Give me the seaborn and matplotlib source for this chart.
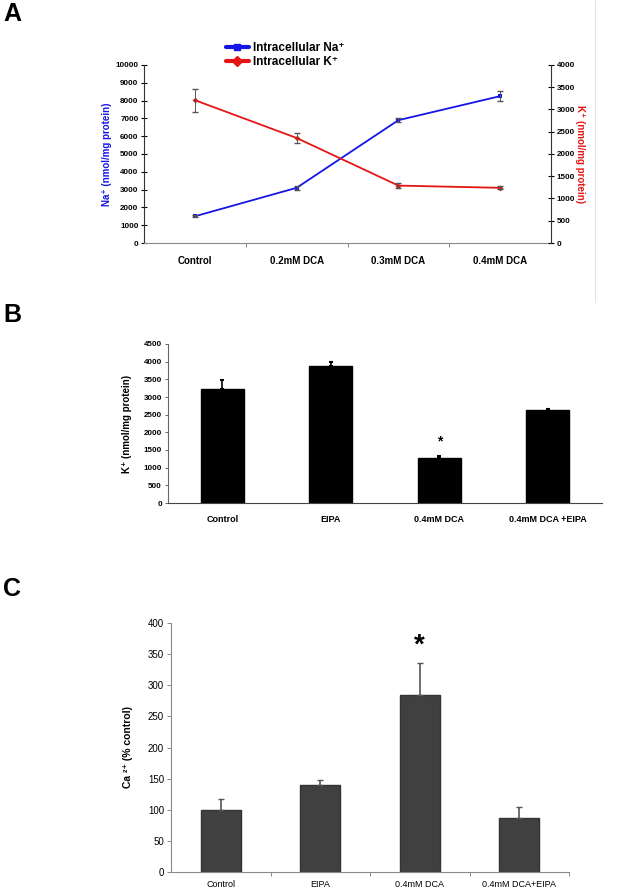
import pandas as pd
import matplotlib
matplotlib.use('Agg')
import matplotlib.pyplot as plt
from matplotlib.lines import Line2D
from matplotlib.ticker import FixedLocator
import seaborn as sns

# panel A: intracellular Na+ / K+ vs DCA dose
doses = ['Control', '0.2mM DCA', '0.3mM DCA', '0.4mM DCA']
na_vals = [1500, 3100, 6900, 8250]
na_err = [60, 120, 110, 280]
k_vals = [3210, 2360, 1290, 1240]
k_err = [260, 110, 55, 35]

# panel B: K+ with EIPA
groups_b = ['Control', 'EIPA', '0.4mM DCA', '0.4mM DCA +EIPA']
k_b = [3220, 3870, 1260, 2620]
k_b_err = [270, 110, 60, 30]

# panel C: Ca2+ % control
groups_c = ['Control', 'EIPA', '0.4mM DCA', '0.4mM DCA+EIPA']
ca_c = [100, 139, 285, 86]
ca_c_err = [17, 8, 51, 18]

sns.set_style('white')
plt.rcParams['font.family'] = ['Liberation Sans', 'DejaVu Sans']
for key in ['text.color', 'axes.labelcolor', 'xtick.color', 'ytick.color']:
    plt.rcParams[key] = 'black'

W, H = 619, 893
fig = plt.figure(figsize=(W / 100, H / 100), dpi=100)


def box(l, t, r, b):
    return [l / W, 1 - b / H, (r - l) / W, (b - t) / H]


# ---------- A ----------
dfa = pd.DataFrame({'dose': doses, 'na': na_vals, 'k': k_vals})
ax = fig.add_axes(box(144, 65, 551, 243))
ax2 = ax.twinx()
sns.lineplot(data=dfa, x='dose', y='na', ax=ax, color='#1515e6', lw=1.3,
             marker='s', markersize=3.5, markeredgewidth=0, sort=False)
sns.lineplot(data=dfa, x='dose', y='k', ax=ax2, color='#e61515', lw=1.3,
             marker='D', markersize=3, markeredgewidth=0, sort=False)
ax.errorbar(range(4), na_vals, yerr=na_err, fmt='none', ecolor='#555555',
            elinewidth=0.7, capsize=2)
ax2.errorbar(range(4), k_vals, yerr=k_err, fmt='none', ecolor='#555555',
             elinewidth=0.7, capsize=2)
ax.set_xlim(-0.5, 3.5)
ax.set_ylim(0, 10000)
ax2.set_ylim(0, 4000)
ax.set_yticks(range(0, 10001, 1000))
ax2.set_yticks(range(0, 4001, 500))
ax.set_xlabel('')
ax.set_ylabel('Na⁺ (nmol/mg protein)', color='#1515e6', fontsize=7, fontweight='bold')
ax2.set_ylabel('K⁺ (nmol/mg protein)', color='#e61515', fontsize=7,
               fontweight='bold', rotation=270)
ax.yaxis.set_label_coords(-0.079, 0.5)
ax2.yaxis.set_label_coords(1.084, 0.5)
for a in (ax, ax2):
    for s in a.spines.values():
        s.set_visible(False)
ax.spines['left'].set_visible(True)
ax.spines['bottom'].set_visible(True)
ax2.spines['right'].set_visible(True)
ax.spines['left'].set_color('#333333')
ax2.spines['right'].set_color('#333333')
ax.spines['bottom'].set_color('#888888')
ax.tick_params(axis='y', direction='inout', length=4, width=0.8, labelsize=5.8, pad=2)
ax2.tick_params(axis='y', direction='inout', length=4, width=0.8, labelsize=5.8, pad=2)
for t in ax.get_yticklabels() + ax2.get_yticklabels():
    t.set_fontweight('bold')
ax.xaxis.set_minor_locator(FixedLocator([0.5, 1.5, 2.5]))
ax.tick_params(axis='x', which='major', length=0, labelsize=7, pad=9)
ax.tick_params(axis='x', which='minor', length=3, width=0.7, color='#888888', bottom=True)
for t in ax.get_xticklabels():
    t.set_fontweight('bold')
handles = [Line2D([], [], color='#1515e6', lw=3, marker='s', markersize=5),
           Line2D([], [], color='#e61515', lw=3, marker='D', markersize=5)]
fig.legend(handles, ['Intracellular Na⁺', 'Intracellular K⁺'], loc='center',
           bbox_to_anchor=(285 / W, 1 - 55 / H), frameon=False,
           handlelength=2.0, handletextpad=0.3, labelspacing=0.2,
           prop={'weight': 'bold', 'size': 8.5})

# ---------- B ----------
dfb = pd.DataFrame({'group': groups_b, 'k': k_b})
bx = fig.add_axes(box(168, 344, 602, 503))
sns.barplot(data=dfb, x='group', y='k', ax=bx, color='black', width=0.4,
            errorbar=None, edgecolor='black')
bx.errorbar(range(4), k_b, yerr=[[0] * 4, k_b_err], fmt='none', ecolor='black',
            elinewidth=1.2, capsize=1.5, capthick=1.5)
bx.text(2, 1755, '*', ha='center', va='center', fontsize=10, fontweight='bold')
bx.set_xlim(-0.5, 3.5)
bx.set_ylim(0, 4500)
bx.set_yticks(range(0, 4501, 500))
bx.set_xlabel('')
bx.set_ylabel('K⁺ (nmol/mg protein)', fontsize=7, fontweight='bold')
bx.yaxis.set_label_coords(-0.083, 0.5)
sns.despine(ax=bx)
bx.spines['left'].set_color('#666666')
bx.spines['bottom'].set_color('#444444')
bx.spines['left'].set_linewidth(0.8)
bx.tick_params(axis='y', left=True, length=2.5, width=0.7, color='#666666',
               labelsize=5.8, pad=2)
bx.tick_params(axis='x', length=0, labelsize=6.5, pad=9)
for t in bx.get_yticklabels() + bx.get_xticklabels():
    t.set_fontweight('bold')

# ---------- C ----------
dfc = pd.DataFrame({'group': groups_c, 'ca': ca_c})
cx = fig.add_axes(box(171, 623, 569, 872))
sns.barplot(data=dfc, x='group', y='ca', ax=cx, color='#404040', width=0.4,
            errorbar=None, edgecolor='#333333', saturation=1)
cx.errorbar(range(4), ca_c, yerr=[[0] * 4, ca_c_err], fmt='none', ecolor='#555555',
            elinewidth=1.2, capsize=2, capthick=1)
cx.text(2, 363, '*', ha='center', va='center', fontsize=20, fontweight='bold')
cx.set_xlim(-0.5, 3.5)
cx.set_ylim(0, 400)
cx.set_yticks(range(0, 401, 50))
cx.set_xlabel('')
cx.set_ylabel('Ca ²⁺ (% control)', fontsize=7.5, fontweight='bold')
cx.yaxis.set_label_coords(-0.095, 0.5)
sns.despine(ax=cx)
cx.spines['left'].set_color('#888888')
cx.spines['bottom'].set_color('#888888')
cx.tick_params(axis='y', left=True, length=3, width=0.7, color='#888888',
               labelsize=7, pad=2)
cx.xaxis.set_minor_locator(FixedLocator([0.5, 1.5, 2.5, 3.5]))
cx.tick_params(axis='x', which='major', length=0, labelsize=6.5, pad=6)
cx.tick_params(axis='x', which='minor', bottom=True, length=3, width=0.7, color='#888888')

# panel letters and the stray frame line on the right
for lbl, y in [('A', 14), ('B', 315), ('C', 589)]:
    fig.text(3 / W, 1 - y / H, lbl, fontsize=18, fontweight='bold', color='black',
             va='center', ha='left')
fig.add_artist(Line2D([595 / W, 595 / W], [1, 1 - 302 / H], color='#e6e6e6', lw=0.8))

fig.savefig('out.png', dpi=100)
